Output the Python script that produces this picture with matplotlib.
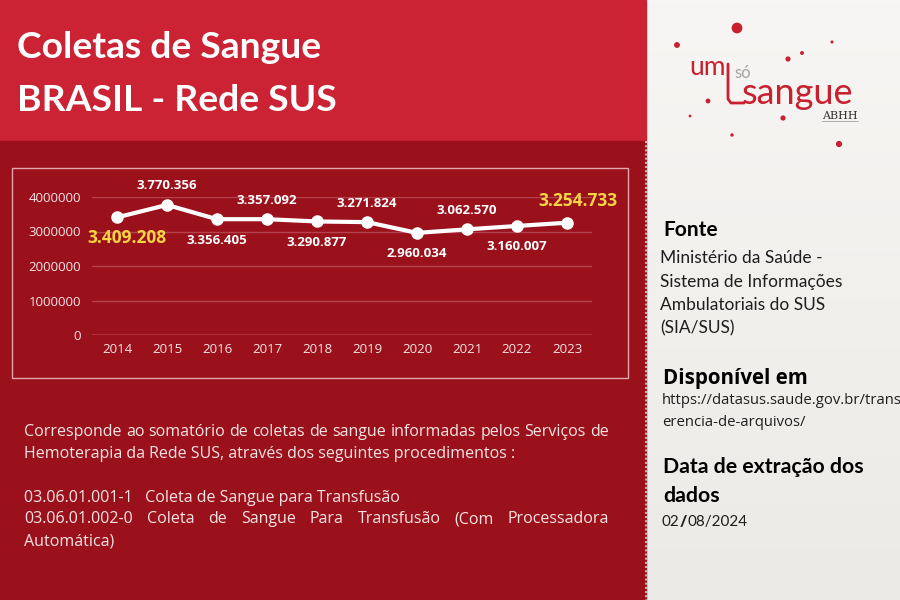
import numpy as np
import matplotlib.pyplot as plt
from matplotlib.patches import Rectangle
from matplotlib.colors import LinearSegmentedColormap

years = [2014, 2015, 2016, 2017, 2018, 2019, 2020, 2021, 2022, 2023]
coletas = [3409208, 3770356, 3356405, 3357092, 3290877,
           3271824, 2960034, 3062570, 3160007, 3254733]
rotulos = ['3.409.208', '3.770.356', '3.356.405', '3.357.092', '3.290.877',
           '3.271.824', '2.960.034', '3.062.570', '3.160.007', '3.254.733']
y_ticks = [0, 1000000, 2000000, 3000000, 4000000]

titulo = ['Coletas de Sangue', 'BRASIL - Rede SUS']
fonte = ['Ministério da Saúde -', 'Sistema de Informações',
         'Ambulatoriais do SUS', '(SIA/SUS)']
url = ['https://datasus.saude.gov.br/transf', 'erencia-de-arquivos/']
data_extracao = ['02', '/', '08/2024']

RED = '#CB2334'
DARK = '#9A111C'
YELLOW = '#F7D443'
TXT = '#F4E4E4'

fig = plt.figure(figsize=(9, 6), dpi=100)
bg = fig.add_axes([0, 0, 1, 1])
bg.axis('off')

# right panel with a light gradient
cmap = LinearSegmentedColormap.from_list('g', ['#F7F6F4', '#ECEAE6'])
bg.imshow(np.linspace(0, 1, 200).reshape(-1, 1), extent=(646, 900, 600, 0),
          cmap=cmap, aspect='auto', zorder=0)
bg.add_patch(Rectangle((0, 0), 646, 141, color=RED, zorder=1))
bg.add_patch(Rectangle((0, 141), 646, 459, color=DARK, zorder=1))
bg.plot([646, 646], [141, 600], color='#BDB6B6', lw=1.5, ls=(0, (1, 1)), zorder=2)
bg.set_xlim(0, 900)
bg.set_ylim(600, 0)

# title
bg.text(17, 58, titulo[0], fontsize=26.8, weight='bold', family='Lato',
        color='white', va='baseline')
bg.text(17, 111, titulo[1], fontsize=26.8, weight='bold', family='Lato',
        color='white', va='baseline')

# chart frame
bg.add_patch(Rectangle((12, 168), 616, 210, fill=False, ec='#E2A6AA', lw=1, zorder=2))

ax = fig.add_axes([92 / 900, 1 - 335 / 600, 500 / 900, 138 / 600])
ax.set_facecolor('none')
ax.plot(years, coletas, color='white', lw=3, marker='o', ms=8, zorder=3,
        solid_capstyle='round')
ax.set_xlim(2013.5, 2023.5)
ax.set_ylim(0, 4000000)
ax.set_yticks(y_ticks)
ax.set_yticklabels([str(v) for v in y_ticks])
ax.set_xticks(years)
ax.grid(axis='y', color='#B4434D', lw=1)
ax.axhline(0, color='#D98A90', lw=1)
for s in ax.spines.values():
    s.set_visible(False)
ax.tick_params(length=0, colors=TXT, labelsize=9.5)
ax.tick_params(axis='y', pad=8)
ax.tick_params(axis='x', pad=6)
for lab in ax.get_xticklabels() + ax.get_yticklabels():
    lab.set_family('Open Sans')

for i, (x, y, lab) in enumerate(zip(years, coletas, rotulos)):
    dy = 19 if i % 2 else -21
    dx = 0
    color, size = 'white', 9.5
    if i == 0:
        dx, color, size = 10, YELLOW, 12.5
    elif i == len(years) - 1:
        dx, dy, color, size = 11, 22, YELLOW, 12.5
    ax.annotate(lab, (x, y), xytext=(dx, dy), textcoords='offset pixels',
                ha='center', va='center', color=color, fontsize=size,
                weight='bold', family='Open Sans', annotation_clip=False)

# body text
fig.canvas.draw()
renderer = fig.canvas.get_renderer()
body_kw = dict(fontsize=11.5, family='Open Sans', color=TXT, va='baseline')


def justify(line, y, x0=24, x1=609):
    words = line.split()
    texts = [bg.text(0, y, w, **body_kw) for w in words]
    widths = [t.get_window_extent(renderer).width for t in texts]
    gap = (x1 - x0 - sum(widths)) / (len(words) - 1)
    x = x0
    for t, w in zip(texts, widths):
        t.set_x(x)
        x += w + gap


justify('Corresponde ao somatório de coletas de sangue informadas pelos Serviços de', 436)
bg.text(24, 458, 'Hemoterapia da Rede SUS, através dos seguintes procedimentos :', **body_kw)
bg.text(24, 502, '03.06.01.001-1   Coleta de Sangue para Transfusão', **body_kw)
justify('03.06.01.002-0 Coleta de Sangue Para Transfusão (Com Processadora', 523)
bg.text(24, 546, 'Automática)', **body_kw)

# right panel text
dark_txt = '#1E1E1E'
bg.text(663, 236, 'Fonte', fontsize=15, weight='bold', family='Lato',
        color='black', va='baseline')
for k, line in enumerate(fonte):
    bg.text(660, 263 + 23.5 * k, line, fontsize=12.5, family='Lato',
            color=dark_txt, va='baseline')
bg.text(663, 384, 'Disponível em', fontsize=14.8, weight='bold', family='Open Sans',
        color='black', va='baseline')
bg.text(662, 404, url[0], fontsize=10.7, family='Open Sans', color=dark_txt, va='baseline')
bg.text(662, 426, url[1], fontsize=10.7, family='Open Sans', color=dark_txt, va='baseline')
bg.text(663, 473, 'Data de extração dos', fontsize=15.3, weight='bold',
        family='Lato', color='black', va='baseline')
bg.text(663, 502, 'dados', fontsize=15.3, weight='bold', family='Lato',
        color='black', va='baseline')
x = 662
for part in data_extracao:
    t = bg.text(x, 526, part, fontsize=11, family='Lato', color=dark_txt,
                va='baseline', weight='heavy' if part == '/' else 'normal')
    x += t.get_window_extent(renderer).width

# logo
LOGO = '#C8202F'
dots_x = [737, 677, 832, 802, 788, 708, 690, 783, 732, 839]
dots_y = [28, 45, 42, 53, 59, 101, 116, 118, 135, 144]
dots_s = [60, 18, 5, 8, 14, 12, 4, 14, 6, 20]
bg.scatter(dots_x, dots_y, s=dots_s, color=LOGO, zorder=3, lw=0)
bg.text(689, 75, 'um', fontsize=19, family='Lato', color=LOGO, va='baseline')
bg.text(734, 78, 'só', fontsize=12, family='Lato', color='#A5A5A5', va='baseline')
bg.text(742, 104, 'sangue', fontsize=26, family='Lato', color=LOGO, va='baseline')
bg.plot([728, 728, 731, 744], [64, 99, 103, 103], color=LOGO, lw=2,
        solid_capstyle='round', solid_joinstyle='round', zorder=3)
bg.text(822, 119, 'ABHH', fontsize=8, family='DejaVu Serif', color='#333333',
        va='baseline')
bg.plot([822, 858], [120.5, 120.5], color='#777777', lw=0.4)

fig.savefig('out.png', dpi=100)
